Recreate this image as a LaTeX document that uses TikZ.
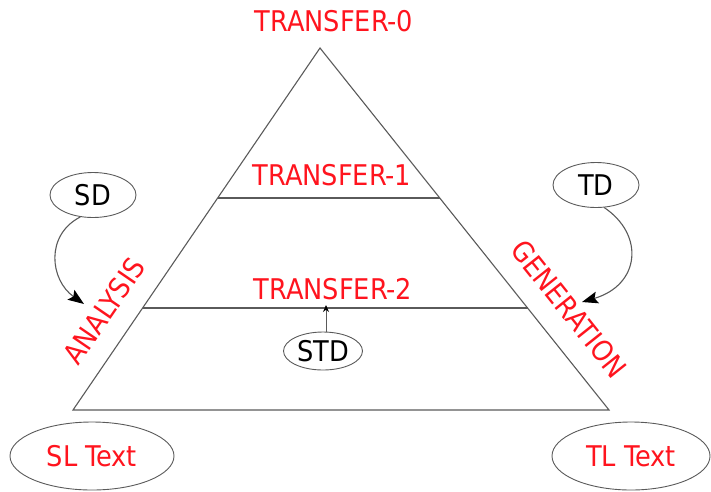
\documentclass[tikz,border=0pt]{standalone}
\usepackage{fontspec}
\setmainfont{DejaVu Sans Condensed}
\usetikzlibrary{arrows.meta,calc,shapes.geometric}
\definecolor{redtxt}{RGB}{255,20,30}
\definecolor{edgegray}{RGB}{90,90,90}
\begin{document}
\begin{tikzpicture}[x=1pt,y=-1pt,
  lbl/.style={text=redtxt,font=\fontsize{28.5}{30}\selectfont,inner sep=0pt},
  oval/.style={ellipse,draw=edgegray,line width=0.9pt,inner sep=0pt,font=\fontsize{28.5}{30}\selectfont},
  edge/.style={draw=edgegray,line width=1.1pt},
  bigarrow/.style={draw=edgegray,line width=1.1pt,-{Stealth[length=16pt,width=12pt,inset=3pt,color=black]}}
]
\useasboundingbox (0,0) rectangle (711,491);
% triangle
\coordinate (apex) at (320,48);
\coordinate (bl) at (73,410);
\coordinate (br) at (609,410);
\draw[edge,line join=miter] (apex) -- (bl) -- (br) -- cycle;
\coordinate (l1a) at ($(apex)!0.4144!(bl)$);
\coordinate (l1b) at ($(apex)!0.4144!(br)$);
\coordinate (l2a) at ($(apex)!0.7182!(bl)$);
\coordinate (l2b) at ($(apex)!0.7182!(br)$);
\draw[edge] (l1a) -- (l1b);
\draw[edge] (l2a) -- (l2b);
% labels
\node[lbl] (t0) at (334,21) {TRANSFER-0};
\node[lbl] (t1) at (332,175) {TRANSFER-1};
\node[lbl] (t2) at (333,289) {TRANSFER-2};
\node[lbl,rotate=55.6] (ana) at (104,311) {ANALYSIS};
\node[lbl,rotate=-51.4] (gen) at (569,309) {GENERATION};
% ovals
\node[oval,minimum width=86pt,minimum height=45pt] (sd) at (93,195) {SD};
\node[oval,minimum width=86pt,minimum height=45pt] (td) at (596,185) {TD};
\node[oval,minimum width=79pt,minimum height=38pt] (std) at (323,351) {STD};
\node[oval,minimum width=164pt,minimum height=68pt,text=redtxt] (sl) at (92,456) {SL Text};
\node[oval,minimum width=158pt,minimum height=68pt,text=redtxt] (tl) at (631,456) {TL Text};
% arrows
\coordinate (tipA) at (84,304);
\coordinate (tipG) at (582,302);
\coordinate (tipS) at (326,305);
\draw[bigarrow] (sd.240) .. controls (45,235) and (50,280) .. (tipA);
\draw[bigarrow] (td.290) .. controls (645,235) and (640,285) .. (tipG);
\draw[draw=edgegray,line width=0.9pt,-{Stealth[length=7pt,width=6pt,color=black]}] (std.north -| tipS) -- (tipS);
\end{tikzpicture}
\end{document}
